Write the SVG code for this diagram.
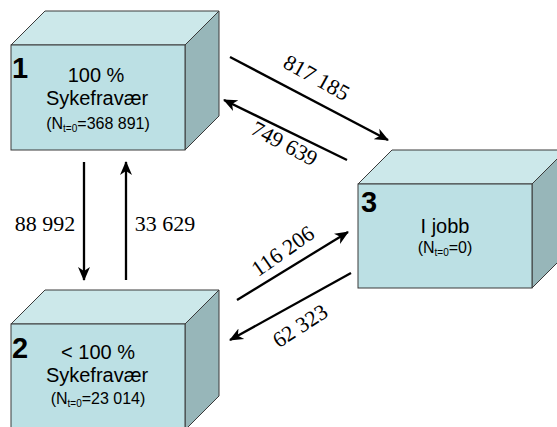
<svg xmlns="http://www.w3.org/2000/svg" width="557" height="427" viewBox="0 0 557 427">
<style>
.front{fill:#BCE0E4;stroke:#3a3a3a;stroke-width:1}
.top{fill:#CCE8EA;stroke:#3a3a3a;stroke-width:1}
.side{fill:#97B6B9;stroke:#3a3a3a;stroke-width:1}
.num{font-family:"Liberation Sans",Arial,sans-serif;font-weight:bold;font-size:29px;fill:#000}
.lbl{font-family:"Liberation Sans",Arial,sans-serif;font-size:20px;fill:#000;text-anchor:middle}
.sm{font-family:"Liberation Sans",Arial,sans-serif;font-size:16px;fill:#000;text-anchor:middle}
.sub{font-size:10px}
.conn{stroke:#000;stroke-width:2.3;fill:none;marker-end:url(#ah)}
.val{font-family:"Liberation Serif","Times New Roman",serif;font-size:22px;fill:#000;text-anchor:middle}
</style>
<defs>
<marker id="ah" markerUnits="userSpaceOnUse" markerWidth="16" markerHeight="14" refX="13" refY="6" orient="auto" viewBox="0 0 16 12">
<path d="M0,0 L14,6 L0,12 L4,6 Z" fill="#000"/>
</marker>
</defs>
<rect width="557" height="427" fill="#fff"/>
<g id="node1">
<polygon class="top" points="11,45 45,11 219,11 185,45"/>
<polygon class="side" points="185,45 219,11 219,116 185,150"/>
<rect class="front" x="11" y="45" width="174" height="105"/>
<text class="num" x="12" y="78">1</text>
<text class="lbl" x="96" y="82">100 %</text>
<text class="lbl" x="97" y="105">Sykefravær</text>
<text class="sm" x="98" y="129">(N<tspan class="sub" dy="3">t=0</tspan><tspan dy="-3">=368 891)</tspan></text>
</g>
<g id="node2">
<polygon class="top" points="11,324 45,290 219,290 185,324"/>
<polygon class="side" points="185,324 219,290 219,396 185,430"/>
<rect class="front" x="11" y="324" width="174" height="106"/>
<text class="num" x="12" y="358">2</text>
<text class="lbl" x="98" y="359">&lt; 100 %</text>
<text class="lbl" x="97" y="382">Sykefravær</text>
<text class="sm" x="98" y="404">(N<tspan class="sub" dy="3">t=0</tspan><tspan dy="-3">=23 014)</tspan></text>
</g>
<g id="node3">
<polygon class="top" points="358,184 392,150 566,150 532,184"/>
<polygon class="side" points="532,184 566,150 566,254 532,288"/>
<rect class="front" x="358" y="184" width="174" height="104"/>
<text class="num" x="361" y="212">3</text>
<text class="lbl" x="445" y="233">I jobb</text>
<text class="sm" x="445" y="253">(N<tspan class="sub" dy="3">t=0</tspan><tspan dy="-3">=0)</tspan></text>
</g>
<g id="connectors">
<line class="conn" x1="230" y1="57" x2="388" y2="140"/>
<line class="conn" x1="347" y1="160" x2="224" y2="100"/>
<line class="conn" x1="84" y1="162" x2="84" y2="280"/>
<line class="conn" x1="126" y1="280" x2="126" y2="162"/>
<line class="conn" x1="237" y1="300" x2="348" y2="232"/>
<line class="conn" x1="351" y1="273" x2="230" y2="340"/>
<text class="val" transform="translate(313,84) rotate(29)">817 185</text>
<text class="val" transform="translate(281,150) rotate(28)">749 639</text>
<text class="val" x="45" y="231">88 992</text>
<text class="val" x="165" y="231">33 629</text>
<text class="val" transform="translate(287,257) rotate(-35)">116 206</text>
<text class="val" transform="translate(304,332) rotate(-33)">62 323</text>
</g>
</svg>
